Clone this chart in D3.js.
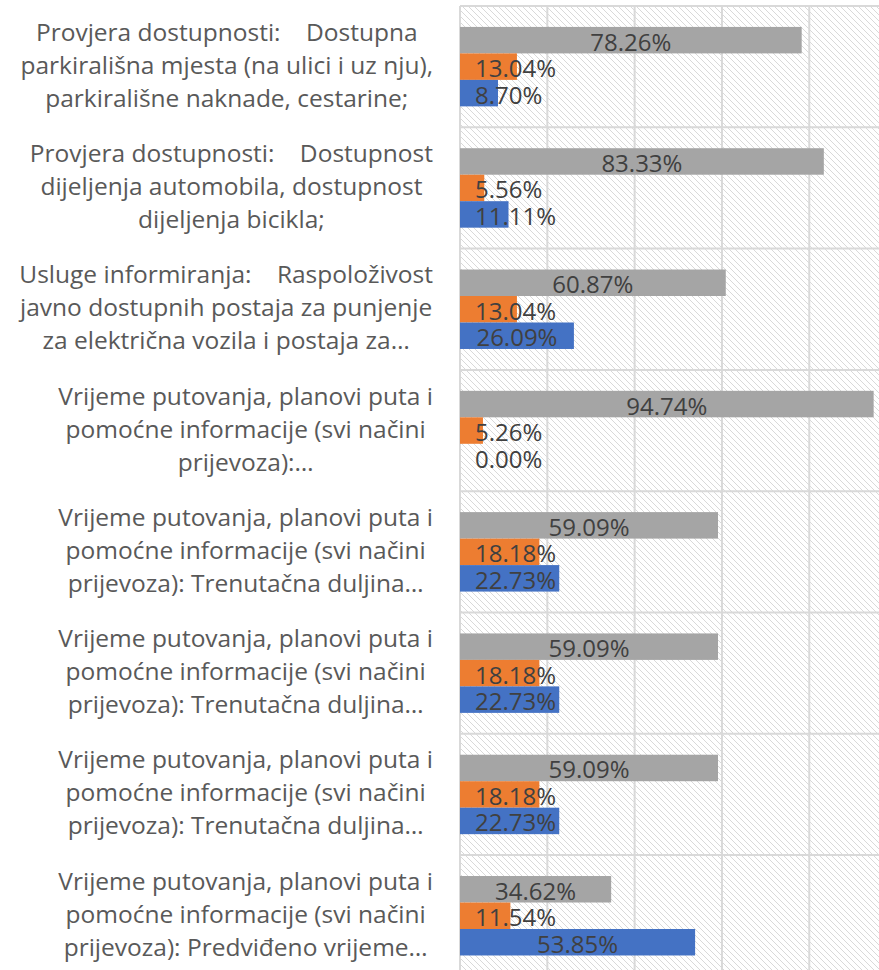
<!DOCTYPE html>
<html>
<head>
<meta charset="utf-8">
<script src="https://cdn.jsdelivr.net/npm/d3@7"></script>
<style>
  html, body { margin: 0; padding: 0; background: #ffffff; }
  svg { display: block; }
</style>
</head>
<body>
<svg id="chart" width="879" height="970"></svg>
<script>
// Category labels, one array of wrapped lines per category
const categories = [
  ["Provjera dostupnosti:    Dostupna", "parkirališna mjesta (na ulici i uz nju),", "parkirališne naknade, cestarine;"],
  ["Provjera dostupnosti:    Dostupnost", "dijeljenja automobila, dostupnost", "dijeljenja bicikla;"],
  ["Usluge informiranja:    Raspoloživost", "javno dostupnih postaja za punjenje", "za električna vozila i postaja za…"],
  ["Vrijeme putovanja, planovi puta i", "pomoćne informacije (svi načini", "prijevoza):…"],
  ["Vrijeme putovanja, planovi puta i", "pomoćne informacije (svi načini", "prijevoza): Trenutačna duljina…"],
  ["Vrijeme putovanja, planovi puta i", "pomoćne informacije (svi načini", "prijevoza): Trenutačna duljina…"],
  ["Vrijeme putovanja, planovi puta i", "pomoćne informacije (svi načini", "prijevoza): Trenutačna duljina…"],
  ["Vrijeme putovanja, planovi puta i", "pomoćne informacije (svi načini", "prijevoza): Predviđeno vrijeme…"]
];

// Series values in percent, drawn top to bottom within each category
const grayValues   = [78.26, 83.33, 60.87, 94.74, 59.09, 59.09, 59.09, 34.62];
const orangeValues = [13.04, 5.56, 13.04, 5.26, 18.18, 18.18, 18.18, 11.54];
const blueValues   = [8.70, 11.11, 26.09, 0.00, 22.73, 22.73, 22.73, 53.85];

const xTicks = [0, 20, 40, 60, 80, 100];

const series = [
  { key: "gray",   color: "#A5A5A5", values: grayValues },
  { key: "orange", color: "#ED7D31", values: orangeValues },
  { key: "blue",   color: "#4472C4", values: blueValues }
];

const svg = d3.select("#chart");
const plot = { left: 460, top: 6, bandH: 121.3 };
const plotBottom = plot.top + plot.bandH * categories.length;
const plotRight = 960;

const x = d3.scaleLinear().domain([0, 100]).range([plot.left, plot.left + 436.6]);
const y = d3.scaleBand()
  .domain(d3.range(categories.length))
  .range([plot.top, plotBottom])
  .paddingInner(0).paddingOuter(0);
const yInner = d3.scaleBand()
  .domain(series.map(s => s.key))
  .range([0, y.bandwidth()])
  .paddingOuter(0.79).paddingInner(0);

// Hatched plot background
const defs = svg.append("defs");
const pat = defs.append("pattern")
  .attr("id", "hatch").attr("patternUnits", "userSpaceOnUse")
  .attr("width", 6).attr("height", 6);
pat.append("rect").attr("width", 6).attr("height", 6).attr("fill", "#ffffff");
pat.append("path")
  .attr("d", "M-1,-1 L7,7 M-1,5 L1,7 M5,-1 L7,1")
  .attr("stroke", "#d9d9d9").attr("stroke-width", 1.1).attr("shape-rendering", "crispEdges");

svg.append("rect")
  .attr("x", plot.left).attr("y", plot.top)
  .attr("width", plotRight - plot.left).attr("height", plotBottom - plot.top)
  .attr("fill", "url(#hatch)");

// Gridlines
const grid = svg.append("g").attr("stroke", "#d9d9d9").attr("stroke-width", 2);
grid.selectAll("line.v").data(xTicks).join("line")
  .attr("class", "v")
  .attr("x1", d => x(d)).attr("x2", d => x(d))
  .attr("y1", plot.top).attr("y2", plotBottom);
grid.selectAll("line.h").data(d3.range(categories.length + 1)).join("line")
  .attr("class", "h")
  .attr("x1", plot.left).attr("x2", plotRight)
  .attr("y1", i => plot.top + i * y.step()).attr("y2", i => plot.top + i * y.step());

// Bars
const rows = [];
categories.forEach((c, i) => {
  series.forEach(s => rows.push({ i, key: s.key, color: s.color, v: s.values[i] }));
});

svg.append("g").selectAll("rect").data(rows).join("rect")
  .attr("x", x(0))
  .attr("y", d => y(d.i) + yInner(d.key))
  .attr("width", d => x(d.v) - x(0))
  .attr("height", yInner.bandwidth())
  .attr("fill", d => d.color);

// Value labels: centred on the bar, but never closer than 15px to the axis
const labelFont = "24px 'Open Sans', 'Noto Sans', sans-serif";
const valLabels = svg.append("g")
  .style("font", labelFont).attr("fill", "#404040")
  .selectAll("text").data(rows).join("text")
  .attr("dominant-baseline", "central")
  .attr("text-anchor", "middle")
  .attr("y", d => y(d.i) + yInner(d.key) + yInner.bandwidth() / 2 + 1)
  .text(d => d.v.toFixed(2) + "%");
valLabels.each(function(d) {
  const w = this.getComputedTextLength();
  const cx = Math.max((x(0) + x(d.v)) / 2, x(0) + 15 + w / 2);
  d3.select(this).attr("x", cx);
});

// Category labels: lines centred inside a block that is right-aligned to the axis
const catG = svg.append("g")
  .style("font", "24.5px 'Open Sans', 'Noto Sans', sans-serif")
  .attr("fill", "#595959");
const lineH = 33;
const blockRight = 433;
categories.forEach((lines, i) => {
  const g = catG.append("g");
  const texts = g.selectAll("text").data(lines).join("text")
    .attr("xml:space", "preserve")
    .style("white-space", "pre")
    .attr("text-anchor", "middle")
    .attr("dominant-baseline", "central")
    .attr("y", (d, k) => y(i) + y.bandwidth() / 2 - 2.5 + (k - (lines.length - 1) / 2) * lineH)
    .text(d => d);
  let maxW = 0;
  texts.each(function() { maxW = Math.max(maxW, this.getComputedTextLength()); });
  texts.attr("x", blockRight - maxW / 2);
});
</script>
</body>
</html>
